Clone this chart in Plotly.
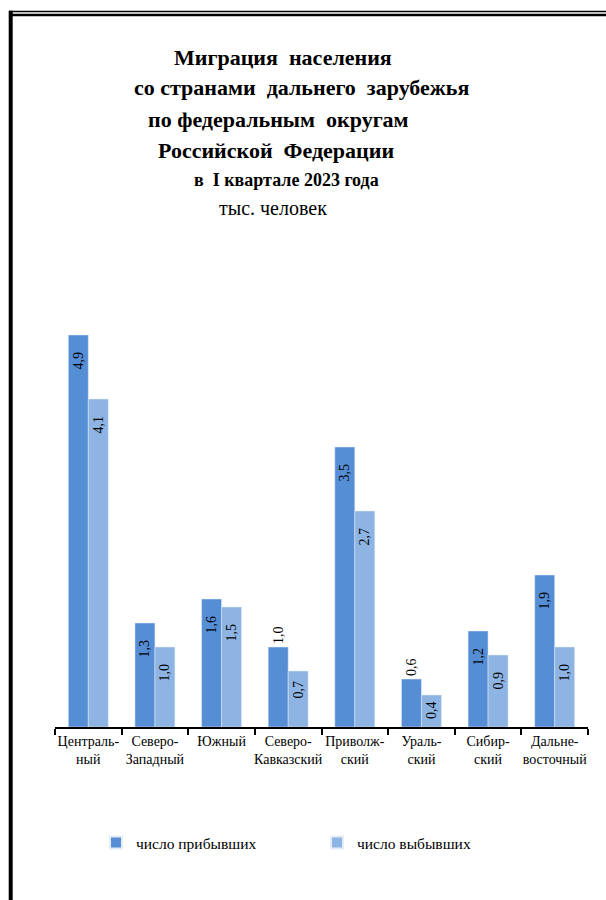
import plotly.graph_objects as go

categories = ["Централь-<br>ный", "Северо-<br>Западный", "Южный", "Северо-<br>Кавказский",
              "Приволж-<br>ский", "Ураль-<br>ский", "Сибир-<br>ский", "Дальне-<br>восточный"]
arrived = [4.9, 1.3, 1.6, 1.0, 3.5, 0.6, 1.2, 1.9]
departed = [4.1, 1.0, 1.5, 0.7, 2.7, 0.4, 0.9, 1.0]
arrived_pos = ["inside", "inside", "inside", "outside", "inside", "outside", "inside", "inside"]
departed_pos = ["inside"] * 8

W, H = 606, 900
ML, MR, MT, MB = 55, 18, 300, 173
PW, PH = W - ML - MR, H - MT - MB
YMAX = PH / 80.0

def px(x):
    return (x - ML) / PW

def py(y):
    return (H - MB - y) / PH

def label(v, pos):
    s = f"{v:.1f}".replace(".", ",")
    if pos != "inside":
        return s
    n = 4 if v >= 0.9 else (2 if v >= 0.6 else 1)
    return s + "\u00a0" * n

FONT = "Liberation Serif"
C1 = "#558ED5"
C2 = "#8EB4E3"

fig = go.Figure()
fig.add_trace(go.Bar(
    x=categories, y=arrived, name="число прибывших", marker_color=C1,
    text=[label(v, p) for v, p in zip(arrived, arrived_pos)], textposition=arrived_pos,
    textangle=-90, insidetextanchor="end", constraintext="none",
    textfont=dict(family=FONT, size=14, color="black"), cliponaxis=False,
))
fig.add_trace(go.Bar(
    x=categories, y=departed, name="число выбывших", marker_color=C2,
    text=[label(v, p) for v, p in zip(departed, departed_pos)], textposition=departed_pos,
    textangle=-90, insidetextanchor="end", constraintext="none",
    textfont=dict(family=FONT, size=14, color="black"), cliponaxis=False,
))

title_lines = [
    ("Миграция  населения", 283, 57, 22, True),
    ("со странами  дальнего  зарубежья", 301, 88, 22, True),
    ("по федеральным  округам", 278, 119, 22, True),
    ("Российской  Федерации", 276, 150, 22, True),
    ("в  I квартале 2023 года", 286, 180, 18, True),
    ("тыс. человек", 273, 208, 20, False),
]
annotations = []
for txt, xc, yc, sz, bold in title_lines:
    annotations.append(dict(
        text=f"<b>{txt}</b>" if bold else txt, x=px(xc), y=py(yc),
        xref="paper", yref="paper", xanchor="center", yanchor="middle",
        showarrow=False, font=dict(family=FONT, size=sz, color="black"),
    ))

shapes = [
    dict(type="line", xref="paper", yref="paper", x0=px(9), x1=px(606), y0=py(11.5), y1=py(11.5),
         line=dict(color="black", width=1.5)),
    dict(type="line", xref="paper", yref="paper", x0=px(12), x1=px(606), y0=py(15), y1=py(15),
         line=dict(color="black", width=2.5)),
    dict(type="line", xref="paper", yref="paper", x0=px(10.7), x1=px(10.7), y0=py(10.7), y1=py(900),
         line=dict(color="black", width=4)),
]

fig.update_layout(
    width=W, height=H,
    margin=dict(l=ML, r=MR, t=MT, b=MB, autoexpand=False),
    paper_bgcolor="white", plot_bgcolor="white",
    barmode="group", bargap=0.4, bargroupgap=0,
    showlegend=True,
    legend=dict(orientation="h", x=px(96), y=py(843), xanchor="left", yanchor="middle",
                font=dict(family=FONT, size=15.5, color="black"), entrywidth=176,
                itemsizing="constant"),
    font=dict(family=FONT, color="black"),
    xaxis=dict(showline=True, linecolor="black", linewidth=2, ticks="outside", ticklen=6,
               tickcolor="black", tickwidth=1.5, tickson="boundaries", tickangle=0,
               automargin=False,
               tickfont=dict(family=FONT, size=14, color="black"), showgrid=False),
    yaxis=dict(range=[0, YMAX], visible=False, showgrid=False, zeroline=False, automargin=False),
    annotations=annotations, shapes=shapes,
)

fig.write_html("out.html", config={"displayModeBar": False},
               post_script="document.body.style.margin='0';document.body.style.padding='0';")
